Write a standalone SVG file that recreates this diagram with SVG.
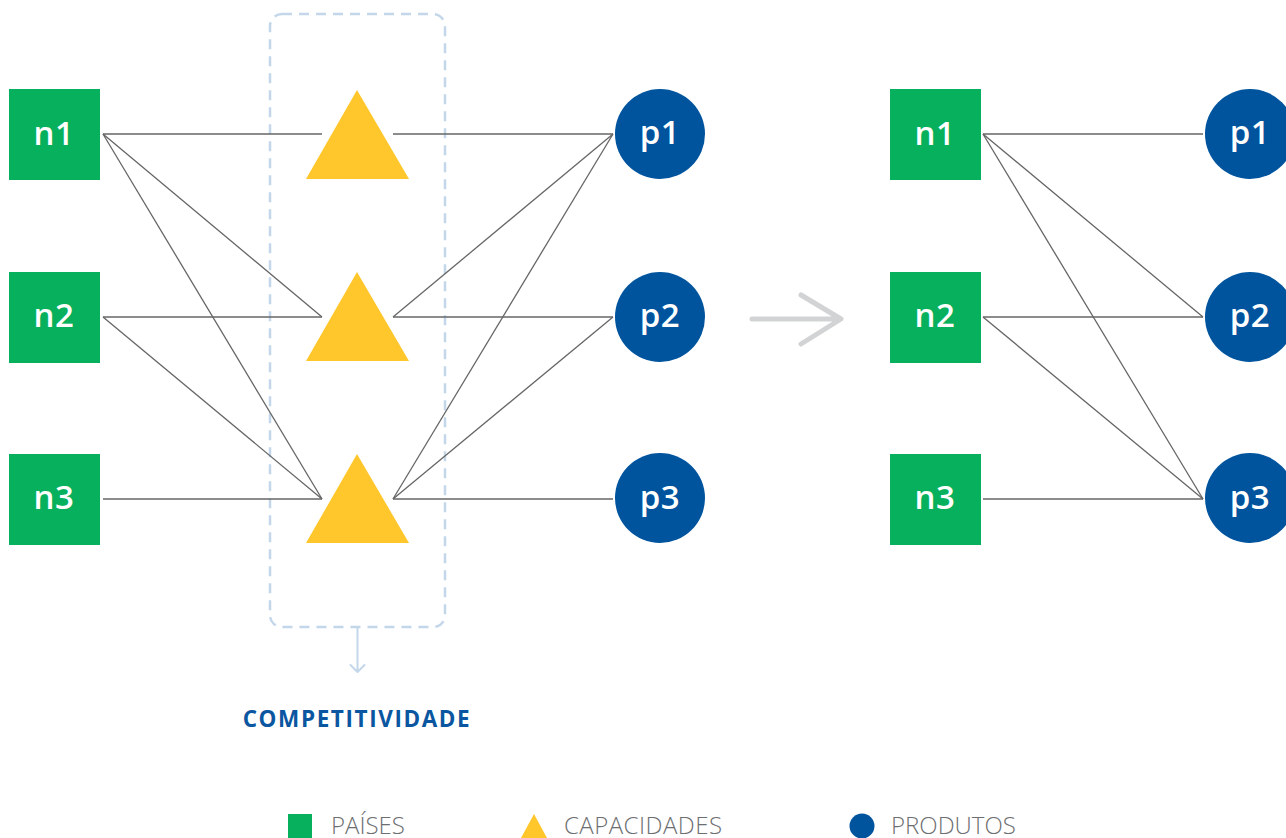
<svg xmlns="http://www.w3.org/2000/svg" width="1286" height="838" viewBox="0 0 1286 838">
  <style>
    .pais { fill: #07b05c; }
    .cap { fill: #ffc72b; }
    .prod { fill: #00549e; }
    .lbl { font-family: "Open Sans", "Liberation Sans", sans-serif; font-size: 33px; font-weight: 600; fill: #ffffff; text-anchor: middle; letter-spacing: 0.5px; }
    .edge { stroke: #666666; stroke-width: 1.3; fill: none; }
    .legend { font-family: "Open Sans", "Liberation Sans", sans-serif; font-size: 24px; font-weight: 300; fill: #6d6e71; }
    .group-box { fill: none; stroke: #c4d7ea; stroke-width: 2.5; stroke-dasharray: 10 7; }
  </style>

  <rect width="1286" height="838" fill="#ffffff"/>

  <!-- dashed grouping around the capability layer -->
  <g id="competitividade">
    <rect class="group-box" x="270" y="14" width="175" height="613" rx="12"/>
    <path d="M357.5 628 V672 M350.5 665 L357.5 672 L364.5 665" fill="none" stroke="#c4d7ea" stroke-width="2" stroke-linecap="round" stroke-linejoin="round"/>
    <text x="357" y="727" font-family="'Open Sans', 'Liberation Sans', sans-serif" font-size="22.5" font-weight="700" fill="#0a56a0" text-anchor="middle" letter-spacing="1.6">COMPETITIVIDADE</text>
  </g>

  <!-- connectors -->
  <g id="connectors">
    <!-- countries to capabilities -->
    <line class="edge" x1="103" y1="134" x2="322" y2="134"/>
    <line class="edge" x1="103" y1="134" x2="322" y2="317"/>
    <line class="edge" x1="103" y1="134" x2="322" y2="499"/>
    <line class="edge" x1="103" y1="317" x2="322" y2="317"/>
    <line class="edge" x1="103" y1="317" x2="322" y2="499"/>
    <line class="edge" x1="103" y1="499" x2="322" y2="499"/>
    <!-- capabilities to products -->
    <line class="edge" x1="393" y1="134" x2="613" y2="134"/>
    <line class="edge" x1="393" y1="317" x2="613" y2="134"/>
    <line class="edge" x1="393" y1="317" x2="613" y2="317"/>
    <line class="edge" x1="393" y1="499" x2="613" y2="134"/>
    <line class="edge" x1="393" y1="499" x2="613" y2="317"/>
    <line class="edge" x1="393" y1="499" x2="613" y2="499"/>
    <!-- countries to products (projected network) -->
    <line class="edge" x1="983" y1="134" x2="1203" y2="134"/>
    <line class="edge" x1="983" y1="134" x2="1203" y2="317"/>
    <line class="edge" x1="983" y1="134" x2="1203" y2="499"/>
    <line class="edge" x1="983" y1="317" x2="1203" y2="317"/>
    <line class="edge" x1="983" y1="317" x2="1203" y2="499"/>
    <line class="edge" x1="983" y1="499" x2="1203" y2="499"/>
    <!-- transition arrow -->
    <path d="M752 319 H840 M801 295 L841 319 L801 344" fill="none" stroke="#d1d3d4" stroke-width="5" stroke-linecap="round" stroke-linejoin="round"/>
  </g>

  <!-- left network: countries -->
  <g id="n1-left"><rect class="pais" x="9" y="89" width="91" height="91"/><text class="lbl" x="54" y="145">n1</text></g>
  <g id="n2-left"><rect class="pais" x="9" y="272" width="91" height="91"/><text class="lbl" x="54" y="327">n2</text></g>
  <g id="n3-left"><rect class="pais" x="9" y="454" width="91" height="91"/><text class="lbl" x="54" y="509">n3</text></g>

  <!-- capabilities -->
  <g id="c1"><polygon class="cap" points="357,90 306,179 409,179"/></g>
  <g id="c2"><polygon class="cap" points="357,272 306,361 409,361"/></g>
  <g id="c3"><polygon class="cap" points="357,454 306,543 409,543"/></g>

  <!-- left network: products -->
  <g id="p1-left"><circle class="prod" cx="660" cy="134" r="45"/><text class="lbl" x="660" y="144">p1</text></g>
  <g id="p2-left"><circle class="prod" cx="660" cy="317" r="45"/><text class="lbl" x="660" y="327">p2</text></g>
  <g id="p3-left"><circle class="prod" cx="660" cy="498" r="45"/><text class="lbl" x="660" y="509">p3</text></g>

  <!-- right network: countries -->
  <g id="n1-right"><rect class="pais" x="890" y="89" width="91" height="91"/><text class="lbl" x="935" y="145">n1</text></g>
  <g id="n2-right"><rect class="pais" x="890" y="272" width="91" height="91"/><text class="lbl" x="935" y="327">n2</text></g>
  <g id="n3-right"><rect class="pais" x="890" y="454" width="91" height="91"/><text class="lbl" x="935" y="509">n3</text></g>

  <!-- right network: products -->
  <g id="p1-right"><circle class="prod" cx="1250" cy="134" r="45"/><text class="lbl" x="1250" y="144">p1</text></g>
  <g id="p2-right"><circle class="prod" cx="1250" cy="317" r="45"/><text class="lbl" x="1250" y="327">p2</text></g>
  <g id="p3-right"><circle class="prod" cx="1250" cy="498" r="45"/><text class="lbl" x="1250" y="509">p3</text></g>

  <!-- legend -->
  <g id="legend">
    <rect class="pais" x="288" y="814" width="24" height="24"/>
    <text class="legend" x="331" y="834">PAÍSES</text>
    <polygon class="cap" points="534,814 521,838 547,838"/>
    <text class="legend" x="564" y="834" textLength="158" lengthAdjust="spacing">CAPACIDADES</text>
    <circle class="prod" cx="862" cy="826" r="12.5"/>
    <text class="legend" x="891" y="834">PRODUTOS</text>
  </g>
</svg>
